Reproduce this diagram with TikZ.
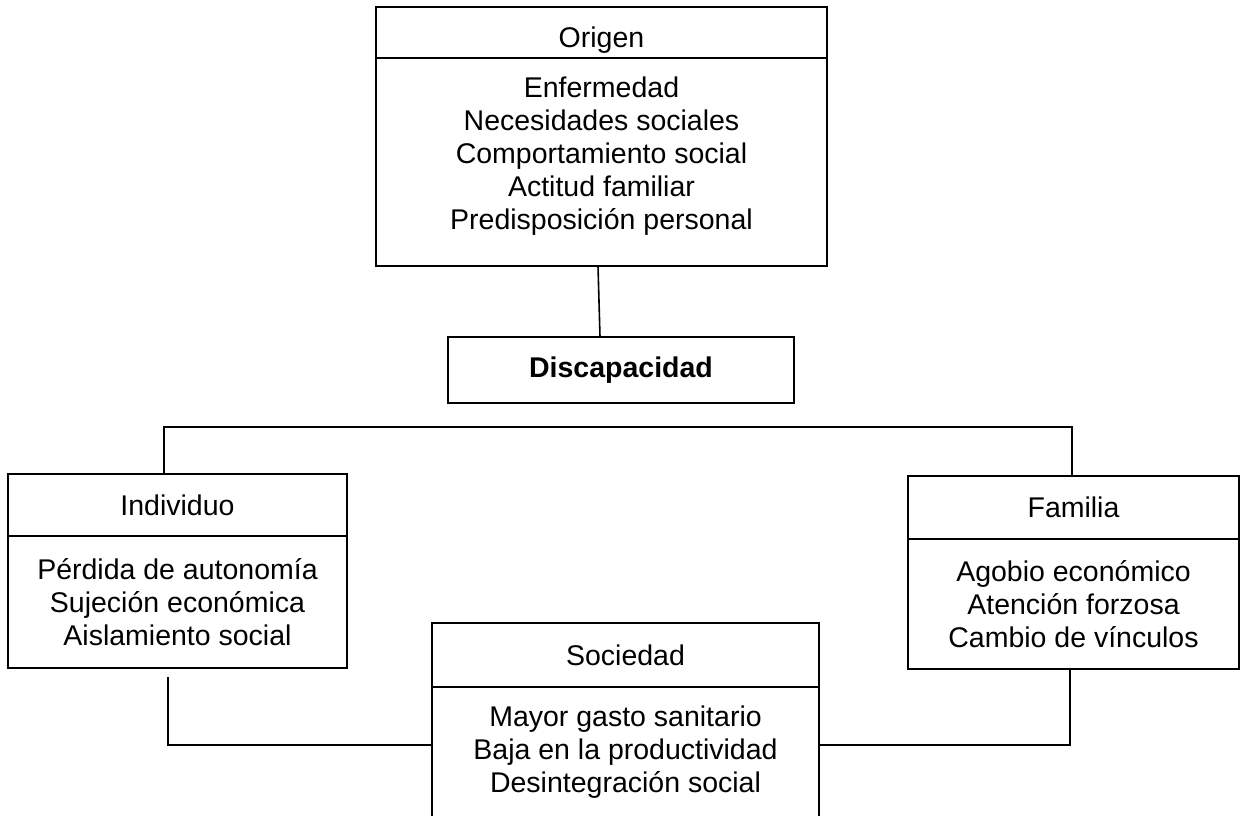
\documentclass[tikz,border=0pt]{standalone}
\usepackage{fontspec}
\setmainfont{Liberation Sans}
\usetikzlibrary{calc,positioning}
\definecolor{boxline}{RGB}{0,0,0}
\tikzset{
boxhead/.style={draw=boxline, line width=2pt, outer sep=0pt, inner sep=0pt, font=\fontsize{28.5}{33}\selectfont},
boxbody/.style={draw=boxline, line width=2pt, outer sep=0pt, inner sep=0pt, align=center, font=\fontsize{28.5}{33}\selectfont},
listtext/.style={inner sep=0pt, align=center, font=\fontsize{28.5}{33}\selectfont},
link/.style={draw=boxline, line width=1.6pt}
}
\begin{document}
\begin{tikzpicture}[x=1pt,y=-1pt]

\clip (0,0) rectangle (1240,816);
\fill[white] (0,0) rectangle (1240,816);

% origen
\node[boxhead, minimum width=451pt, minimum height=51pt, text height=30pt, text depth=0pt] (origen) at (601.5,32.5) {Origen};
\node[boxbody, minimum width=451pt, minimum height=208pt, below=0pt of origen] (origenbody) {};
\node[listtext, anchor=north] (origenlist) at ($(origenbody.north)+(0,19)$)
{Enfermedad\\Necesidades sociales\\Comportamiento social\\Actitud familiar\\Predisposición personal};

\node[boxhead, minimum width=346pt, minimum height=66pt, font=\fontsize{28.5}{33}\selectfont\bfseries] (disc) at (621,370) {Discapacidad};

% individuo
\node[boxhead, minimum width=339pt, minimum height=62pt] (indiv) at (177.5,505) {Individuo};
\node[boxbody, minimum width=339pt, minimum height=132pt, below=0pt of indiv] (indivbody)
{Pérdida de autonomía\\Sujeción económica\\Aislamiento social};

% familia
\node[boxhead, minimum width=331pt, minimum height=63pt] (familia) at (1073.5,507.5) {Familia};
\node[boxbody, minimum width=331pt, minimum height=130pt, below=0pt of familia] (familiabody)
{Agobio económico\\Atención forzosa\\Cambio de vínculos};

% sociedad
\node[boxhead, minimum width=387pt, minimum height=64pt] (sociedad) at (625.5,655) {Sociedad};
\node[boxbody, minimum width=387pt, minimum height=131pt, below=0pt of sociedad] (sociedadbody)
{Mayor gasto sanitario\\Baja en la productividad\\Desintegración social};

% connectors
\coordinate (bar) at (621,427);
\draw[link] ($(origenbody.south)+(-3.5,0)$) -- ($(disc.north)+(-21,0)$);
\draw[link] ($(indiv.north)+(-13.5,0)$) |- (bar) -| ($(familia.north)+(-1.5,0)$);
\draw[link] ($(indivbody.south)+(-9.5,9)$) |- ($(sociedadbody.west)+(0,-7.5)$);
\draw[link] ($(familiabody.south)+(-3.5,0)$) |- ($(sociedadbody.east)+(0,-7.5)$);

\end{tikzpicture}
\end{document}
